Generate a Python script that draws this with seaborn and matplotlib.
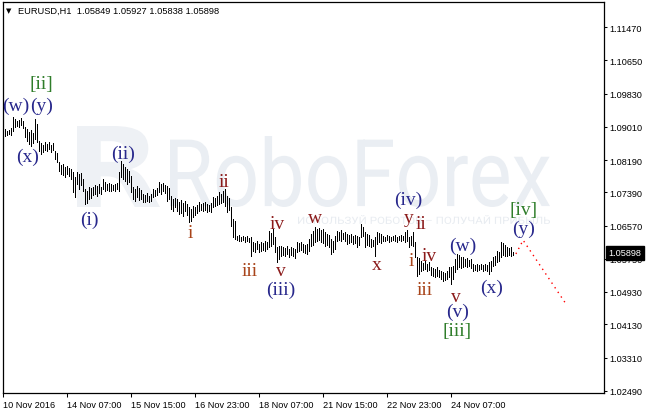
import matplotlib
matplotlib.use("Agg")
import numpy as np
import pandas as pd
import matplotlib.pyplot as plt
import seaborn as sns
from matplotlib.textpath import TextPath
from matplotlib.patches import PathPatch
from matplotlib.font_manager import FontProperties
from matplotlib.transforms import Affine2D, IdentityTransform, blended_transform_factory

# ---------------- data (EURUSD H1 bars: high / low) ----------------
highs = [
    1.0893, 1.0896, 1.0891, 1.0893, 1.0898, 1.0925, 1.0920, 1.0915, 1.0918, 1.0923,
    1.0915, 1.0901, 1.0896, 1.0888, 1.0893, 1.0886, 1.0920, 1.0908, 1.0866, 1.0861,
    1.0856, 1.0864, 1.0859, 1.0864, 1.0856, 1.0861, 1.0841, 1.0836, 1.0814, 1.0807,
    1.0809, 1.0802, 1.0804, 1.0799, 1.0797, 1.0790, 1.0777, 1.0790, 1.0785, 1.0787,
    1.0772, 1.0747, 1.0742, 1.0752, 1.0750, 1.0752, 1.0757, 1.0755, 1.0760, 1.0752,
    1.0772, 1.0765, 1.0760, 1.0762, 1.0760, 1.0757, 1.0760, 1.0762, 1.0790, 1.0817,
    1.0809, 1.0802, 1.0797, 1.0792, 1.0780, 1.0752, 1.0747, 1.0755, 1.0750, 1.0745,
    1.0735, 1.0732, 1.0737, 1.0730, 1.0735, 1.0747, 1.0745, 1.0750, 1.0765, 1.0760,
    1.0762, 1.0757, 1.0755, 1.0750, 1.0730, 1.0723, 1.0725, 1.0723, 1.0715, 1.0720,
    1.0713, 1.0718, 1.0710, 1.0703, 1.0698, 1.0705, 1.0703, 1.0708, 1.0715, 1.0710,
    1.0713, 1.0715, 1.0710, 1.0708, 1.0713, 1.0727, 1.0725, 1.0730, 1.0740, 1.0735,
    1.0742, 1.0747, 1.0730, 1.0725, 1.0703, 1.0673, 1.0668, 1.0631, 1.0634, 1.0629,
    1.0631, 1.0629, 1.0631, 1.0626, 1.0629, 1.0616, 1.0614, 1.0619, 1.0611, 1.0616,
    1.0614, 1.0619, 1.0616, 1.0644, 1.0639, 1.0649, 1.0629, 1.0604, 1.0606, 1.0606,
    1.0604, 1.0601, 1.0606, 1.0599, 1.0604, 1.0601, 1.0599, 1.0616, 1.0614, 1.0616,
    1.0611, 1.0609, 1.0611, 1.0624, 1.0636, 1.0644, 1.0653, 1.0649, 1.0651, 1.0646,
    1.0649, 1.0641, 1.0636, 1.0634, 1.0624, 1.0619, 1.0631, 1.0644, 1.0641, 1.0646,
    1.0639, 1.0641, 1.0636, 1.0634, 1.0636, 1.0631, 1.0634, 1.0631, 1.0629, 1.0661,
    1.0653, 1.0641, 1.0636, 1.0634, 1.0624, 1.0621, 1.0629, 1.0641, 1.0639, 1.0636,
    1.0631, 1.0629, 1.0634, 1.0631, 1.0629, 1.0631, 1.0634, 1.0629, 1.0631, 1.0634,
    1.0631, 1.0641, 1.0646, 1.0629, 1.0631, 1.0641, 1.0616, 1.0579, 1.0577, 1.0570,
    1.0565, 1.0570, 1.0562, 1.0567, 1.0555, 1.0552, 1.0550, 1.0555, 1.0547, 1.0545,
    1.0542, 1.0540, 1.0545, 1.0555, 1.0555, 1.0557, 1.0574, 1.0587, 1.0584, 1.0579,
    1.0579, 1.0574, 1.0577, 1.0572, 1.0574, 1.0562, 1.0560, 1.0562, 1.0560, 1.0562,
    1.0560, 1.0562, 1.0560, 1.0567, 1.0570, 1.0579, 1.0582, 1.0594, 1.0592, 1.0616,
    1.0614, 1.0609, 1.0604, 1.0601, 1.0604, 1.05927,
]
lows = [
    1.0881, 1.0878, 1.0881, 1.0883, 1.0881, 1.0891, 1.0901, 1.0903, 1.0901, 1.0906,
    1.0898, 1.0876, 1.0866, 1.0859, 1.0854, 1.0861, 1.0871, 1.0864, 1.0841, 1.0834,
    1.0839, 1.0844, 1.0841, 1.0846, 1.0839, 1.0844, 1.0822, 1.0814, 1.0792, 1.0785,
    1.0782, 1.0777, 1.0785, 1.0780, 1.0772, 1.0740, 1.0727, 1.0760, 1.0747, 1.0757,
    1.0742, 1.0710, 1.0713, 1.0723, 1.0725, 1.0732, 1.0735, 1.0730, 1.0737, 1.0735,
    1.0747, 1.0742, 1.0745, 1.0742, 1.0742, 1.0745, 1.0742, 1.0747, 1.0742, 1.0777,
    1.0772, 1.0767, 1.0760, 1.0765, 1.0740, 1.0723, 1.0718, 1.0727, 1.0720, 1.0723,
    1.0715, 1.0715, 1.0718, 1.0715, 1.0718, 1.0727, 1.0730, 1.0732, 1.0740, 1.0735,
    1.0742, 1.0737, 1.0718, 1.0723, 1.0698, 1.0693, 1.0703, 1.0693, 1.0686, 1.0688,
    1.0681, 1.0693, 1.0683, 1.0666, 1.0668, 1.0678, 1.0683, 1.0688, 1.0693, 1.0696,
    1.0693, 1.0696, 1.0691, 1.0693, 1.0691, 1.0703, 1.0705, 1.0708, 1.0710, 1.0713,
    1.0715, 1.0705, 1.0691, 1.0696, 1.0656, 1.0629, 1.0624, 1.0621, 1.0619, 1.0619,
    1.0621, 1.0616, 1.0619, 1.0616, 1.0582, 1.0594, 1.0592, 1.0599, 1.0592, 1.0594,
    1.0597, 1.0594, 1.0599, 1.0604, 1.0606, 1.0611, 1.0592, 1.0567, 1.0574, 1.0582,
    1.0584, 1.0582, 1.0587, 1.0579, 1.0584, 1.0582, 1.0577, 1.0592, 1.0594, 1.0597,
    1.0592, 1.0589, 1.0587, 1.0594, 1.0606, 1.0609, 1.0616, 1.0619, 1.0621, 1.0616,
    1.0614, 1.0606, 1.0609, 1.0604, 1.0587, 1.0592, 1.0599, 1.0619, 1.0621, 1.0619,
    1.0624, 1.0619, 1.0611, 1.0614, 1.0616, 1.0611, 1.0614, 1.0604, 1.0609, 1.0629,
    1.0631, 1.0604, 1.0609, 1.0606, 1.0604, 1.0606, 1.0582, 1.0611, 1.0616, 1.0614,
    1.0619, 1.0619, 1.0621, 1.0616, 1.0619, 1.0621, 1.0619, 1.0616, 1.0621, 1.0619,
    1.0621, 1.0616, 1.0619, 1.0604, 1.0609, 1.0606, 1.0579, 1.0532, 1.0537, 1.0545,
    1.0547, 1.0550, 1.0545, 1.0547, 1.0535, 1.0532, 1.0530, 1.0532, 1.0530, 1.0525,
    1.0520, 1.0523, 1.0525, 1.0530, 1.0513, 1.0525, 1.0542, 1.0550, 1.0555, 1.0552,
    1.0555, 1.0557, 1.0555, 1.0557, 1.0552, 1.0545, 1.0547, 1.0545, 1.0547, 1.0550,
    1.0545, 1.0547, 1.0545, 1.0537, 1.0545, 1.0557, 1.0560, 1.0567, 1.0570, 1.0579,
    1.0584, 1.0582, 1.0582, 1.0584, 1.0582, 1.05838,
]

time_tick_bars = [0, 32, 64, 96, 128, 160, 192, 224]
time_tick_labels = ["10 Nov 2016", "14 Nov 07:00", "15 Nov 15:00", "16 Nov 23:00",
                    "18 Nov 07:00", "21 Nov 15:00", "22 Nov 23:00", "24 Nov 07:00"]
price_ticks = [1.11470, 1.10650, 1.09830, 1.09010, 1.08190, 1.07390,
               1.06570, 1.05750, 1.04930, 1.04130, 1.03310, 1.02490]

header = "EURUSD,H1  1.05849 1.05927 1.05838 1.05898"
last_price = 1.05898

forecast_bar = [256.3, 259.9, 281.4]
forecast_price = [1.0587, 1.0621, 1.0463]

BLUE, RED, ORNG, GREEN = "#28288c", "#8b1a1a", "#a8441a", "#2f7d2a"
wave_labels = [
    ("(w)", 6.4, 1.0955, BLUE), ("(y)", 18.9, 1.0955, BLUE), ("[ii]", 18.9, 1.1007, GREEN),
    ("(x)", 11.9, 1.0829, BLUE), ("(ii)", 59.9, 1.0836, BLUE), ("(i)", 42.9, 1.0673, BLUE),
    ("i", 93.4, 1.0639, ORNG), ("ii", 110.4, 1.0767, RED), ("iii", 123.4, 1.0547, ORNG),
    ("iv", 136.9, 1.0663, RED), ("v", 138.9, 1.0547, RED), ("(iii)", 138.9, 1.0500, BLUE),
    ("w", 155.9, 1.0676, RED), ("x", 186.9, 1.0562, RED), ("(iv)", 202.4, 1.0723, BLUE),
    ("y", 202.9, 1.0678, RED), ("ii", 208.9, 1.0661, RED), ("i", 203.9, 1.0570, ORNG),
    ("iv", 212.9, 1.0584, RED), ("iii", 210.9, 1.0498, ORNG), ("v", 226.4, 1.0483, RED),
    ("(v)", 226.9, 1.0444, BLUE), ("[iii]", 226.9, 1.0397, GREEN), ("(w)", 229.9, 1.0609, BLUE),
    ("(x)", 243.9, 1.0505, BLUE), ("[iv]", 259.9, 1.0696, GREEN), ("(y)", 259.9, 1.0649, BLUE),
]

bars = pd.DataFrame({"bar": np.arange(len(highs)), "high": highs, "low": lows})
fc = pd.DataFrame({"bar": forecast_bar, "price": forecast_price})

# ---------------- figure ----------------
sns.set_style("white")
plt.rcParams["font.family"] = ["Liberation Sans", "DejaVu Sans"]
W, H = 646, 414
fig = plt.figure(figsize=(W / 100, H / 100), dpi=100)
fig.patch.set_facecolor("white")
L, R, T, B = 2.7, 604.0, 2.7, 394.3
ax = fig.add_axes([L / W, (H - B) / H, (R - L) / W, (B - T) / H])
ax.set_facecolor("white")


def place_text_path(text, family, weight, x0, x1, y0, y1, color, z=0.5):
    tp = TextPath((0, 0), text, size=100, prop=FontProperties(family=family, weight=weight))
    bb = tp.get_extents()
    tr = (Affine2D().translate(-bb.x0, -bb.y0)
          .scale((x1 - x0) / bb.width, (y1 - y0) / bb.height)
          .translate(x0, H - y1))
    patch = PathPatch(tr.transform_path(tp), fc=color, ec="none",
                      transform=IdentityTransform(), zorder=z)
    ax.add_artist(patch)


# watermark
place_text_path("R", "DejaVu Sans", "bold", 77, 160, 127, 208, "#eef1f5")
place_text_path("RoboForex", "Roboto", "normal", 170, 550, 137, 208, "#eaeef3")
place_text_path("ИСПОЛЬЗУЙ РОБОТОВ – ПОЛУЧАЙ ПРИБЫЛЬ", "Roboto", "normal",
                298, 550, 216, 225, "#e8ecf1")

# price bars
ax.vlines(bars["bar"], bars["low"], bars["high"], colors="black",
          linewidth=0.6, antialiased=False, zorder=3)

# forecast
sns.lineplot(data=fc, x="bar", y="price", ax=ax, color="red", linewidth=1.0,
             linestyle=(0, (1, 3)), sort=False, zorder=3)

# wave labels
for txt, x, y, col in wave_labels:
    ax.text(x, y, txt, color=col, fontsize=14, family="Liberation Serif",
            ha="center", va="center", zorder=4)

ax.set_xlim((L - 3.3) / 2, (R - 3.3) / 2)
ax.set_ylim(1.02426, 1.12103)
ax.set_xlabel("")
ax.set_ylabel("")

ax.set_xticks(time_tick_bars)
ax.set_xticklabels(time_tick_labels)
for lbl in ax.get_xticklabels():
    lbl.set_ha("left")
ax.yaxis.tick_right()
ax.set_yticks(price_ticks)
ax.set_yticklabels([f"{p:.5f}" for p in price_ticks])
ax.tick_params(axis="y", which="both", direction="out", length=2.5, width=0.75,
               pad=1.5, labelsize=6.6, colors="black", right=True, left=False)
ax.tick_params(axis="x", which="both", direction="out", length=3, width=0.75,
               pad=2, labelsize=6.6, colors="black", bottom=True)
for sp in ax.spines.values():
    sp.set_visible(True)
    sp.set_color("black")
    sp.set_linewidth(0.9)

# current price box
trans = blended_transform_factory(ax.transAxes, ax.transData)
ax.text(1.0 + 4.5 / (R - L), last_price, f"{last_price:.5f}", transform=trans,
        color="white", fontsize=6.6, ha="left", va="center", zorder=10, clip_on=False,
        bbox=dict(boxstyle="square,pad=0.25", fc="black", ec="black"))

# header
fig.text(9 / W, 1 - 11 / H, "▼", fontsize=5, family="DejaVu Sans",
         ha="center", va="center", color="black")
fig.text(18 / W, 1 - 11 / H, header, fontsize=6.7, ha="left", va="center", color="black")

fig.savefig("out.png", dpi=100, facecolor="white")
